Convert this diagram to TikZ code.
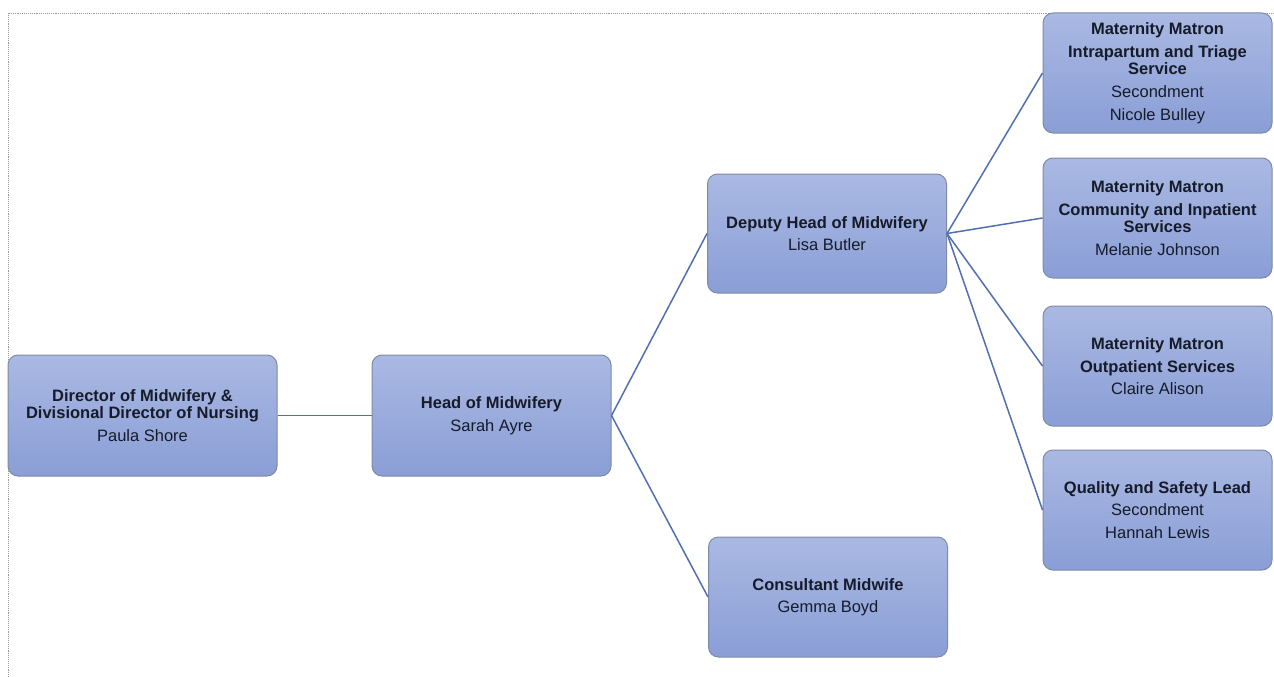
\documentclass[tikz,border=0pt]{standalone}
\usepackage{fontspec}
\setmainfont{Liberation Sans}
\definecolor{boxtop}{HTML}{AAB9E3}
\definecolor{boxbot}{HTML}{8A9ED6}
\definecolor{boxedge}{HTML}{7E8AA6}
\definecolor{linkc}{HTML}{5070B0}
\definecolor{txt}{HTML}{161B2A}
\definecolor{frame}{HTML}{9A9A9A}
\begin{document}
\begin{tikzpicture}[x=1pt,y=-1pt,
  orgbox/.style={draw=boxedge, line width=1pt, rounded corners=10pt,
    top color=boxtop, bottom color=boxbot, align=center, text=txt,
    font=\fontsize{16.5}{17.5}\selectfont, inner sep=2pt},
  wbox/.style={orgbox, minimum width=239pt, minimum height=120pt},
  rbox/.style={orgbox, minimum width=229pt, minimum height=120pt},
  link/.style={draw=linkc, line width=1.5pt}]
\useasboundingbox (0,0) rectangle (1274,677);
\draw[frame, densely dotted, line width=0.9pt] (8,677) -- (8,13) -- (1274,13);

\node[orgbox, minimum width=269pt, minimum height=121pt] (dir) at (142.5,415.5)
  {\textbf{Director of Midwifery \&}\\\textbf{Divisional Director of Nursing}\\[5pt]Paula Shore};
\node[wbox, minimum height=121pt] (head) at (491.5,415.5)
  {\textbf{Head of Midwifery}\\[5pt]Sarah Ayre};
\node[wbox, minimum height=119pt] (dep) at (827,233.5)
  {\textbf{Deputy Head of Midwifery}\\[5pt]Lisa Butler};
\node[wbox] (cons) at (828,597)
  {\textbf{Consultant Midwife}\\[5pt]Gemma Boyd};
\node[rbox] (m1) at (1157.5,73)
  {\textbf{Maternity Matron}\\[5.5pt]\textbf{Intrapartum and Triage}\\\textbf{Service}\\[5.5pt]Secondment\\[5.5pt]Nicole Bulley};
\node[rbox] (m2) at (1157.5,218)
  {\textbf{Maternity Matron}\\[5.5pt]\textbf{Community and Inpatient}\\\textbf{Services}\\[5.5pt]Melanie Johnson};
\node[rbox] (m3) at (1157.5,366)
  {\textbf{Maternity Matron}\\[5.5pt]\textbf{Outpatient Services}\\[5pt]Claire Alison};
\node[rbox] (qs) at (1157.5,510)
  {\textbf{Quality and Safety Lead}\\[5pt]Secondment\\[5pt]Hannah Lewis};

\draw[link] (dir.east) -- (head.west);
\draw[link] (head.east) -- (dep.west);
\draw[link] (head.east) -- (cons.west);
\foreach \t in {m1,m2,m3,qs}
  \draw[link] (dep.east) -- (\t.west);
\end{tikzpicture}
\end{document}
